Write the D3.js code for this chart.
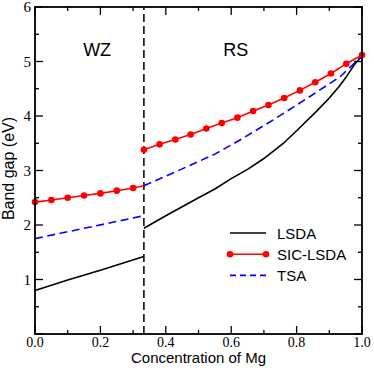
<!DOCTYPE html>
<html>
<head>
<meta charset="utf-8">
<script src="https://cdn.jsdelivr.net/npm/d3@7"></script>
<style>
  html, body { margin: 0; padding: 0; background: #fff; }
  .title { font-family: 'Liberation Sans', Arial, sans-serif; font-size: 16px; }
  .legend-text { font-family: 'Liberation Sans', Arial, sans-serif; font-size: 15px; }
  .phase { font-family: 'Liberation Sans', Arial, sans-serif; font-size: 18px; }
</style>
</head>
<body>
<div id="chart"></div>
<script>
// LSDA (wurtzite and rock-salt branches)
const lsdaWzX = [0, 0.1, 0.2, 0.333];
const lsdaWzY = [0.80, 0.99, 1.17, 1.42];
const lsdaRsX = [0.333, 0.4, 0.5, 0.55, 0.6, 0.65, 0.7, 0.76, 0.8, 0.86, 0.9, 0.93, 0.95, 0.98, 1.0];
const lsdaRsY = [1.94, 2.17, 2.50, 2.66, 2.85, 3.02, 3.22, 3.50, 3.73, 4.08, 4.33, 4.54, 4.70, 4.97, 5.10];

// SIC-LSDA (last WZ value is the line end at the phase boundary, no marker)
const sicWzX = [0, 0.05, 0.1, 0.15, 0.2, 0.25, 0.3, 0.333];
const sicWzY = [2.42, 2.46, 2.50, 2.54, 2.58, 2.63, 2.68, 2.72];
const sicRsX = [0.333, 0.381, 0.429, 0.476, 0.524, 0.571, 0.619, 0.667, 0.714, 0.762, 0.810, 0.857, 0.905, 0.952, 1.0];
const sicRsY = [3.38, 3.48, 3.57, 3.66, 3.77, 3.87, 3.97, 4.09, 4.20, 4.33, 4.47, 4.62, 4.78, 4.96, 5.12];

// TSA
const tsaWzX = [0, 0.333];
const tsaWzY = [1.75, 2.17];
const tsaRsX = [0.333, 0.45, 0.55, 0.627, 0.729, 0.831, 0.933, 1.0];
const tsaRsY = [2.72, 3.03, 3.30, 3.56, 3.93, 4.32, 4.72, 5.10];

const boundaryX = 0.333;
const xTicks = [0, 0.2, 0.4, 0.6, 0.8, 1.0];
const yTicks = [1, 2, 3, 4, 5, 6];
const legendNames = ['LSDA', 'SIC-LSDA', 'TSA'];

const width = 374, height = 374;
const margin = { top: 7, right: 12, bottom: 40, left: 35 };
const serif = "'Liberation Serif', 'Times New Roman', Times, 'DejaVu Serif', serif";

const svg = d3.select('#chart').append('svg')
  .attr('width', width)
  .attr('height', height);

const x = d3.scaleLinear().domain([0, 1]).range([margin.left, width - margin.right]);
const y = d3.scaleLinear().domain([0, 6]).range([height - margin.bottom, margin.top]);

const zip = (xs, ys) => xs.map((v, i) => ({ x: v, y: ys[i] }));
const line = d3.line().x(d => x(d.x)).y(d => y(d.y));

// phase boundary
svg.append('line')
  .attr('x1', x(boundaryX)).attr('x2', x(boundaryX))
  .attr('y1', y(0)).attr('y2', y(6))
  .attr('stroke', '#000').attr('stroke-width', 1.5)
  .attr('stroke-dasharray', '8,4');

// series
const series = [
  { key: 'lsda', color: '#000', dash: null, parts: [zip(lsdaWzX, lsdaWzY), zip(lsdaRsX, lsdaRsY)] },
  { key: 'tsa', color: '#0000ff', dash: '8,4.5', parts: [zip(tsaWzX, tsaWzY), zip(tsaRsX, tsaRsY)] },
  { key: 'sic', color: '#ff0000', dash: null, parts: [zip(sicWzX, sicWzY), zip(sicRsX, sicRsY)] }
];

series.forEach(s => {
  s.parts.forEach(p => {
    svg.append('path')
      .datum(p)
      .attr('fill', 'none')
      .attr('stroke', s.color)
      .attr('stroke-width', 1.6)
      .attr('stroke-dasharray', s.dash)
      .attr('d', line);
  });
});

// SIC-LSDA markers
const sicDots = zip(sicWzX, sicWzY).slice(0, -1).concat(zip(sicRsX, sicRsY));
svg.selectAll('.dot')
  .data(sicDots)
  .enter()
  .append('circle')
  .attr('class', 'dot')
  .attr('cx', d => x(d.x))
  .attr('cy', d => y(d.y))
  .attr('r', 3.3)
  .attr('fill', '#ff0000');

// frame
svg.append('rect')
  .attr('x', x(0)).attr('y', y(6))
  .attr('width', x(1) - x(0)).attr('height', y(0) - y(6))
  .attr('fill', 'none').attr('stroke', '#000').attr('stroke-width', 1.8);

// inward ticks on all four sides
const tickLen = (major) => major ? 8 : 4;
const ticksG = svg.append('g').attr('stroke', '#000').attr('stroke-width', 1.3);
d3.range(0, 11).forEach(i => {
  const v = i / 10, major = i % 2 === 0;
  ticksG.append('line').attr('x1', x(v)).attr('x2', x(v))
    .attr('y1', y(0)).attr('y2', y(0) - tickLen(major));
  ticksG.append('line').attr('x1', x(v)).attr('x2', x(v))
    .attr('y1', y(6)).attr('y2', y(6) + tickLen(major));
});
d3.range(0, 13).forEach(i => {
  const v = i / 2, major = i % 2 === 0;
  ticksG.append('line').attr('y1', y(v)).attr('y2', y(v))
    .attr('x1', x(0)).attr('x2', x(0) + tickLen(major));
  ticksG.append('line').attr('y1', y(v)).attr('y2', y(v))
    .attr('x1', x(1)).attr('x2', x(1) - tickLen(major));
});

// tick labels
svg.selectAll('.xlab')
  .data(xTicks)
  .enter()
  .append('text')
  .attr('font-family', serif)
  .attr('font-size', 14)
  .attr('x', d => x(d))
  .attr('y', y(0) + 12.5)
  .attr('text-anchor', 'middle')
  .text(d => d3.format('.1f')(d));

svg.selectAll('.ylab')
  .data(yTicks)
  .enter()
  .append('text')
  .attr('font-family', serif)
  .attr('font-size', 15)
  .attr('x', x(0) - 4)
  .attr('y', d => y(d) + 5)
  .attr('text-anchor', 'end')
  .text(d => d);

// axis titles
svg.append('text')
  .attr('class', 'title')
  .attr('font-size', 15)
  .style('font-size', '15px')
  .attr('x', (x(0) + x(1)) / 2)
  .attr('y', 363)
  .attr('text-anchor', 'middle')
  .text('Concentration of Mg');

svg.append('text')
  .attr('class', 'title')
  .attr('transform', `translate(14, ${y(3) - 2}) rotate(-90)`)
  .attr('text-anchor', 'middle')
  .text('Band gap (eV)');

// phase labels
svg.append('text').attr('class', 'phase')
  .attr('x', x(0.19)).attr('y', y(5.1))
  .attr('text-anchor', 'middle').text('WZ');
svg.append('text').attr('class', 'phase')
  .attr('x', x(0.614)).attr('y', y(5.1))
  .attr('text-anchor', 'middle').text('RS');

// legend
const legend = svg.append('g');
const legX1 = 230, legX2 = 266, legY0 = 233, legDy = 21.2;
const legendStyles = [
  { color: '#000', dash: null, dots: false },
  { color: '#ff0000', dash: null, dots: true },
  { color: '#0000ff', dash: '6,4', dots: false }
];
legendNames.forEach((name, i) => {
  const ly = legY0 + i * legDy;
  const st = legendStyles[i];
  legend.append('line')
    .attr('x1', legX1).attr('x2', legX2)
    .attr('y1', ly).attr('y2', ly)
    .attr('stroke', st.color).attr('stroke-width', 1.6)
    .attr('stroke-dasharray', st.dash);
  if (st.dots) {
    [legX1, legX2].forEach(cx => {
      legend.append('circle').attr('cx', cx).attr('cy', ly).attr('r', 3.3).attr('fill', st.color);
    });
  }
  legend.append('text')
    .attr('class', 'legend-text')
    .attr('x', 277)
    .attr('y', ly + 5.5)
    .text(name);
});
</script>
</body>
</html>
